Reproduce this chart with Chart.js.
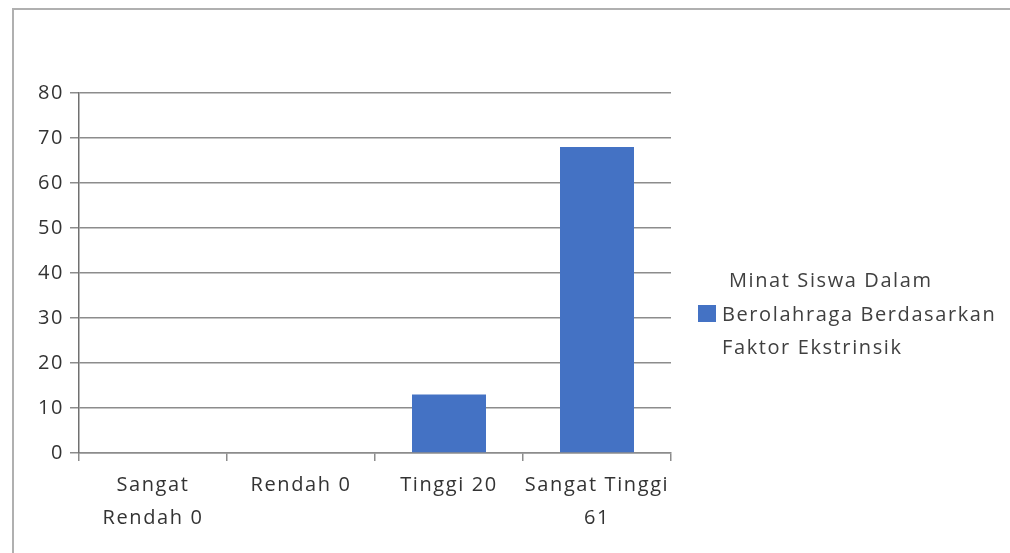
<!DOCTYPE html>
<html>
<head>
<meta charset="utf-8">
<script src="https://cdn.jsdelivr.net/npm/chart.js@4"></script>
<style>
  body { margin: 0; background: #fff; }
  canvas { display: block; }
</style>
</head>
<body>
<canvas id="minatChart" width="1010" height="553"></canvas>
<script>
// data
const categories = [['Sangat', 'Rendah 0'], 'Rendah 0', 'Tinggi 20', ['Sangat Tinggi', '61']];
const values = [0, 0, 13, 68];
const seriesLabel = 'Minat Siswa Dalam Berolahraga Berdasarkan Faktor Ekstrinsik';
const legendLines = ['Minat Siswa Dalam', 'Berolahraga Berdasarkan', 'Faktor Ekstrinsik'];
const yTicks = [0, 10, 20, 30, 40, 50, 60, 70, 80];

const FONT = "'Open Sans', sans-serif";
const BAR_COLOR = '#4472C4';
const SPACING = '1.6px'; // the original text is drawn wide

// outer frame + legend drawn by hand
const framePlugin = {
  id: 'frameAndLegend',
  beforeLayout(chart) {
    chart.ctx.letterSpacing = SPACING;
  },
  beforeDraw(chart) {
    const ctx = chart.ctx;
    ctx.letterSpacing = SPACING;
    ctx.save();
    ctx.strokeStyle = '#b0b0b0';
    ctx.lineWidth = 2;
    ctx.beginPath();
    ctx.moveTo(13, 553);
    ctx.lineTo(13, 9);
    ctx.lineTo(1010, 9);
    ctx.stroke();
    ctx.restore();
  },
  afterDraw(chart) {
    const ctx = chart.ctx;
    ctx.save();
    ctx.fillStyle = BAR_COLOR;
    ctx.fillRect(698, 305, 18, 17);
    ctx.fillStyle = '#404040';
    ctx.font = '20px ' + FONT;
    ctx.textBaseline = 'middle';
    ctx.textAlign = 'left';
    ctx.fillText(legendLines[0], 729, 281);
    ctx.fillText(legendLines[1], 722, 315);
    ctx.fillText(legendLines[2], 722, 348);
    ctx.restore();
  }
};

const ctx = document.getElementById('minatChart').getContext('2d');
new Chart(ctx, {
  type: 'bar',
  data: {
    labels: categories,
    datasets: [{
      label: seriesLabel,
      data: values,
      backgroundColor: BAR_COLOR,
      barPercentage: 0.5,
      categoryPercentage: 1.0
    }]
  },
  options: {
    responsive: false,
    animation: false,
    layout: { padding: { left: 0, top: 93, right: 339, bottom: 0 } },
    plugins: {
      legend: { display: false },
      tooltip: { enabled: false }
    },
    scales: {
      x: {
        offset: true,
        grid: {
          offset: true,
          drawOnChartArea: true,
          color: (c) => (c.index === categories.length ? '#8c8c8c' : 'transparent'),
          tickColor: '#8c8c8c',
          tickLength: 8,
          lineWidth: 1.5
        },
        border: { color: '#8c8c8c', width: 1.5 },
        ticks: {
          autoSkip: false,
          maxRotation: 0,
          minRotation: 0,
          padding: 8,
          color: '#333',
          font: { family: FONT, size: 20, lineHeight: 1.65 }
        },
        afterFit: (scale) => { scale.height = 100; }
      },
      y: {
        min: 0,
        max: 80,
        afterBuildTicks: (scale) => { scale.ticks = yTicks.map((v) => ({ value: v })); },
        grid: {
          color: '#8c8c8c',
          lineWidth: 1.5,
          tickLength: 9
        },
        border: { color: '#707070', width: 1.5 },
        ticks: {
          padding: 6,
          color: '#333',
          font: { family: FONT, size: 20 }
        },
        afterFit: (scale) => { scale.width = 79; }
      }
    }
  },
  plugins: [framePlugin]
});
</script>
</body>
</html>
